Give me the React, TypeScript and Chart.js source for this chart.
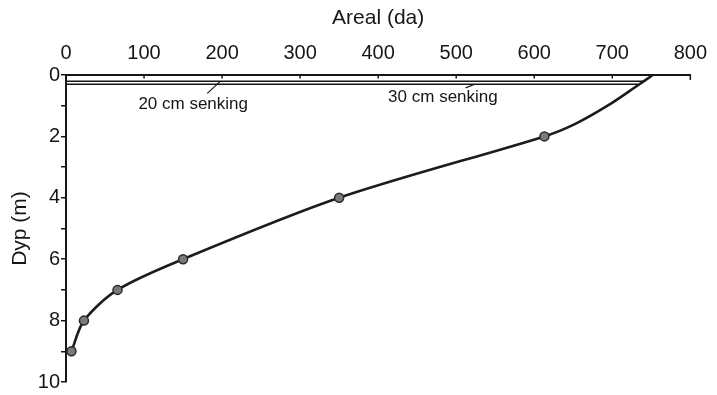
import React, { useEffect, useRef } from "react";
import { Chart, registerables } from "chart.js";

Chart.register(...registerables);

// Data (marked survey points plus unmarked points)
const depthM = [0, 0.35, 1.0, 1.6, 2, 4, 6, 7, 8, 9];
const arealDa = [752, 732, 694, 652, 613, 350, 150, 66, 23, 7];
const markerShown = [false, false, false, false, true, true, true, true, true, true];

const senkingDepths = [0.2, 0.3];
const senkingEndsDa = [740, 733];
const senkingLabels = ["20 cm senking", "30 cm senking"];

const xTickValues = [0, 100, 200, 300, 400, 500, 600, 700, 800];
const yTickLabels = [0, 2, 4, 6, 8, 10];

const FONT = '"Liberation Sans", Arial, Helvetica, sans-serif';
const INK = "#161616";

const annotationPlugin = {
  id: "senkingAnnotations",
  afterDatasetsDraw(chart: any) {
    const { ctx, chartArea } = chart;
    const x = chart.scales.x;
    const y = chart.scales.y;
    ctx.save();
    // inward tick marks on the top axis
    ctx.strokeStyle = INK;
    ctx.lineWidth = 1.5;
    for (const v of xTickValues) {
      const px = x.getPixelForValue(v);
      ctx.beginPath();
      ctx.moveTo(px, chartArea.top);
      ctx.lineTo(px, chartArea.top + (v === 800 ? 5 : 3.5));
      ctx.stroke();
    }
    // labels with pointers
    const notes = [
      { text: senkingLabels[0], tx: 163, ty: 0.95, from: [181, 0.6], to: [198, senkingDepths[0]] },
      { text: senkingLabels[1], tx: 483, ty: 0.72, from: [512, 0.42], to: [524, senkingDepths[1]] },
    ];
    ctx.font = `17px ${FONT}`;
    ctx.fillStyle = INK;
    ctx.textAlign = "center";
    ctx.textBaseline = "middle";
    ctx.lineWidth = 1.2;
    for (const n of notes) {
      ctx.fillText(n.text, x.getPixelForValue(n.tx), y.getPixelForValue(n.ty));
      ctx.beginPath();
      ctx.moveTo(x.getPixelForValue(n.from[0]), y.getPixelForValue(n.from[1]));
      ctx.lineTo(x.getPixelForValue(n.to[0]), y.getPixelForValue(n.to[1]));
      ctx.stroke();
    }
    ctx.restore();
  },
};

export default function App() {
  const ref = useRef<HTMLCanvasElement | null>(null);

  useEffect(() => {
    if (!ref.current) return;
    const curve = depthM.map((d, i) => ({ x: arealDa[i], y: d }));
    const senkingSets = senkingDepths.map((d, i) => ({
      data: [
        { x: 0, y: d },
        { x: senkingEndsDa[i], y: d },
      ],
      showLine: true,
      borderColor: INK,
      borderWidth: 1.5,
      pointRadius: 0,
      tension: 0,
    }));
    const chart = new Chart(ref.current, {
      type: "scatter",
      data: {
        datasets: [
          ...senkingSets,
          {
            data: curve,
            showLine: true,
            borderColor: "#1c1c1c",
            borderWidth: 2.6,
            tension: 0.3,
            pointRadius: markerShown.map((m) => (m ? 4.5 : 0)),
            pointBackgroundColor: "#7a7a7a",
            pointBorderColor: "#2a2a2a",
            pointBorderWidth: 1.5,
          },
        ],
      },
      options: {
        animation: false,
        responsive: true,
        maintainAspectRatio: false,
        layout: { padding: { left: 0, right: 24, top: 0, bottom: 9 } },
        plugins: {
          legend: { display: false },
          tooltip: { enabled: false },
        },
        scales: {
          x: {
            type: "linear",
            position: "top",
            min: 0,
            max: 800,
            afterFit: (s: any) => {
              s.height = 75;
            },
            afterBuildTicks: (s: any) => {
              s.ticks = xTickValues.map((v) => ({ value: v }));
            },
            ticks: {
              color: INK,
              font: { family: FONT, size: 20 },
              padding: 10,
              maxRotation: 0,
            },
            grid: { drawOnChartArea: false, drawTicks: false },
            border: { display: true, color: INK, width: 2 },
            title: {
              display: true,
              text: "Areal (da)",
              color: INK,
              font: { family: FONT, size: 21 },
              padding: { top: 6, bottom: 0 },
            },
          },
          y: {
            type: "linear",
            reverse: true,
            min: 0,
            max: 10,
            afterFit: (s: any) => {
              s.width = 66;
            },
            ticks: {
              stepSize: 1,
              color: INK,
              font: { family: FONT, size: 20 },
              padding: 1,
              callback: (v: any) => (yTickLabels.includes(Number(v)) ? String(v) : ""),
            },
            grid: {
              drawOnChartArea: false,
              drawTicks: true,
              tickLength: 5,
              color: INK,
              lineWidth: 1.5,
            },
            border: { display: true, color: INK, width: 2 },
            title: {
              display: true,
              text: "Dyp (m)",
              color: INK,
              font: { family: FONT, size: 21 },
              padding: { top: 8, bottom: 0 },
            },
          },
        },
      },
      plugins: [annotationPlugin],
    } as any);
    return () => chart.destroy();
  }, []);

  return (
    <div style={{ position: "fixed", left: 0, top: 0, width: 717, height: 395, background: "#fff" }}>
      <canvas ref={ref} />
    </div>
  );
}
